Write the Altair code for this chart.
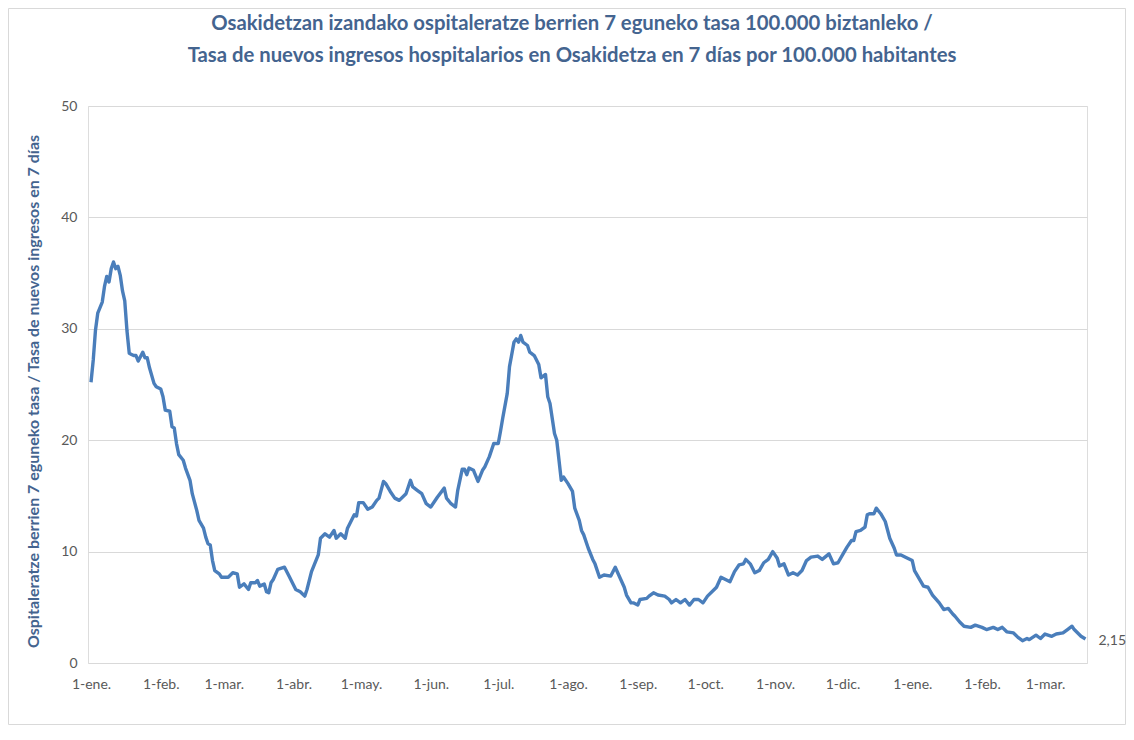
import altair as alt
import pandas as pd

# ---- data (days since 2022-01-01, rate per 100.000) ----
days = [0, 1, 2, 3, 5, 6, 7, 8, 9, 10, 11, 12, 13, 14, 15, 16, 17, 18, 19, 20,
        21, 23, 24, 25, 26, 28, 29, 31, 32, 33, 35, 36, 37, 38, 39, 41, 42, 44, 45, 47,
        48, 50, 51, 52, 53, 54, 55, 57, 58, 61, 63, 65, 66, 68, 70, 71, 73, 74, 75, 77,
        78, 79, 80, 81, 83, 86, 88, 91, 93, 95, 96, 98, 101, 102, 104, 106, 108, 109, 111, 113,
        114, 117, 118, 119, 121, 123, 125, 127, 128, 130, 131, 133, 135, 137, 140, 142, 143, 145, 147, 149,
        151, 154, 157, 158, 160, 162, 163, 165, 166, 167, 168, 170, 172, 174, 175, 177, 179, 181, 182, 183,
        185, 186, 188, 189, 190, 191, 192, 194, 195, 197, 199, 200, 202, 203, 204, 206, 207, 209, 210, 212,
        214, 215, 217, 218, 219, 221, 223, 224, 226, 228, 231, 233, 235, 237, 238, 240, 241, 243, 244, 247,
        248, 250, 252, 255, 257, 258, 260, 262, 264, 266, 268, 270, 272, 274, 277, 278, 280, 282, 284, 286,
        288, 290, 291, 293, 295, 297, 299, 301, 303, 305, 306, 308, 310, 312, 314, 316, 318, 320, 323, 325,
        328, 330, 332, 334, 336, 338, 339, 340, 342, 344, 345, 346, 348, 349, 351, 353, 355, 357, 358, 360,
        362, 365, 366, 368, 370, 372, 374, 377, 379, 381, 383, 384, 386, 388, 391, 393, 396, 398, 401, 403,
        405, 407, 410, 412, 414, 416, 417, 420, 422, 424, 427, 429, 432, 434, 436, 437, 439, 440, 442]

values = [25.2, 27.2, 29.9, 31.4, 32.4, 33.8, 34.7, 34.2, 35.4, 36.0, 35.4, 35.6, 34.8, 33.4, 32.5, 29.8, 27.8, 27.7, 27.6, 27.6,
          27.1, 27.9, 27.4, 27.4, 26.5, 25.1, 24.8, 24.6, 23.9, 22.7, 22.6, 21.2, 21.1, 19.7, 18.7, 18.2, 17.5, 16.4, 15.2, 13.7,
          12.8, 12.1, 11.3, 10.7, 10.6, 9.2, 8.3, 8.0, 7.7, 7.7, 8.1, 8.0, 6.8, 7.1, 6.6, 7.2, 7.2, 7.4, 6.9, 7.1,
          6.4, 6.3, 7.2, 7.5, 8.4, 8.6, 7.8, 6.6, 6.4, 6.0, 6.6, 8.2, 9.7, 11.2, 11.6, 11.3, 11.9, 11.2, 11.6, 11.2,
          12.1, 13.3, 13.2, 14.4, 14.4, 13.8, 14.0, 14.6, 14.8, 16.3, 16.1, 15.4, 14.8, 14.6, 15.2, 16.4, 15.8, 15.5, 15.2, 14.3,
          14.0, 14.9, 15.7, 14.8, 14.3, 14.0, 15.5, 17.4, 17.4, 16.9, 17.5, 17.3, 16.3, 17.3, 17.6, 18.5, 19.7, 19.7, 20.8, 22.0,
          24.2, 26.6, 28.8, 29.1, 28.8, 29.4, 28.8, 28.5, 27.9, 27.6, 26.8, 25.6, 25.9, 23.9, 23.3, 20.6, 20.0, 16.4, 16.7, 16.1,
          15.4, 13.9, 12.8, 11.9, 11.5, 10.3, 9.3, 8.9, 7.7, 7.9, 7.8, 8.6, 7.7, 6.8, 6.1, 5.4, 5.4, 5.2, 5.7, 5.8,
          6.0, 6.3, 6.1, 6.0, 5.7, 5.4, 5.7, 5.4, 5.7, 5.2, 5.7, 5.7, 5.4, 6.0, 6.6, 6.8, 7.7, 7.5, 7.3, 8.2,
          8.8, 8.9, 9.3, 8.9, 8.1, 8.3, 9.0, 9.3, 10.0, 9.4, 8.7, 8.9, 7.9, 8.1, 7.9, 8.3, 9.2, 9.5, 9.6, 9.3,
          9.8, 8.9, 9.0, 9.7, 10.4, 11.0, 11.0, 11.8, 11.9, 12.2, 13.3, 13.4, 13.4, 13.9, 13.4, 12.7, 11.2, 10.3, 9.7, 9.7,
          9.5, 9.2, 8.3, 7.6, 6.9, 6.8, 6.1, 5.4, 4.8, 4.9, 4.4, 4.2, 3.7, 3.3, 3.2, 3.4, 3.2, 3.0, 3.2, 3.0,
          3.2, 2.8, 2.7, 2.3, 2.0, 2.2, 2.1, 2.5, 2.2, 2.6, 2.4, 2.6, 2.7, 3.0, 3.3, 3.0, 2.6, 2.4, 2.15]

month_labels = ["ene.", "feb.", "mar.", "abr.", "may.", "jun.",
                "jul.", "ago.", "sep.", "oct.", "nov.", "dic."]
tick_months = [(2022, m) for m in range(1, 13)] + [(2023, 1), (2023, 2), (2023, 3)]
y_ticks = [0, 10, 20, 30, 40, 50]

title_lines = ["Osakidetzan izandako ospitaleratze berrien 7 eguneko tasa 100.000 biztanleko /",
               "Tasa de nuevos ingresos hospitalarios en Osakidetza en 7 días por 100.000 habitantes"]
y_title = "Ospitaleratze  berrien 7 eguneko tasa / Tasa de nuevos ingresos en 7 días"

# ---- build tables ----
base = pd.Timestamp("2022-01-01")
dates = [(base + pd.Timedelta(days=d)).strftime("%Y-%m-%dT00:00:00") for d in days]
df = pd.DataFrame({"fecha": dates, "tasa": values})
last = df.tail(1).copy()
last["label"] = [f"{v:.2f}".replace(".", ",") for v in last["tasa"]]
title1 = pd.DataFrame({"text": [title_lines[0]]})
title2 = pd.DataFrame({"text": [title_lines[1]]})

W, H = 999, 557
PAD_L, PAD_T, PAD_R, PAD_B = 80, 98, 39, 62

FONT = "Lato"
TITLE_COLOR = "#44648F"
LABEL_COLOR = "#595959"
LINE_COLOR = "#4A7EBB"

names_js = "[" + ",".join(f"'{m}'" for m in month_labels) + "]"

x_enc = alt.X(
    "fecha:T",
    scale=alt.Scale(domain=[alt.DateTime(year=2021, month=12, date=30, hours=16),
                            alt.DateTime(year=2023, month=3, date=19, hours=16)]),
    axis=alt.Axis(
        values=[alt.DateTime(year=y, month=m, date=1) for y, m in tick_months],
        labelExpr=f"'1-' + {names_js}[month(datum.value)]",
        title=None, grid=False, ticks=False, domain=False,
        labelFont=FONT, labelFontSize=14, labelColor=LABEL_COLOR,
        labelPadding=14, labelOverlap=False, labelBound=False, labelFlush=False,
    ),
)
y_enc = alt.Y(
    "tasa:Q",
    scale=alt.Scale(domain=[0, 50], nice=False, zero=True),
    axis=alt.Axis(
        values=y_ticks, title=y_title, grid=True, gridColor="#D9D9D9", gridWidth=1,
        ticks=False, domain=False,
        labelFont=FONT, labelFontSize=14, labelColor=LABEL_COLOR, labelPadding=11,
        titleFont=FONT, titleFontSize=16, titleFontWeight="bold", titleColor=TITLE_COLOR,
        titleX=-55, titleY=285, titleAngle=270, titleAlign="center", titleBaseline="middle",
    ),
)

line = alt.Chart(df).mark_line(color=LINE_COLOR, strokeWidth=3.4, interpolate="linear",
                               strokeJoin="round").encode(x=x_enc, y=y_enc)
end_label = alt.Chart(last).mark_text(
    align="left", baseline="middle", dx=13, dy=2, font=FONT, fontSize=14, color=LABEL_COLOR
).encode(x="fecha:T", y="tasa:Q", text="label:N")

title_style = dict(align="center", baseline="middle", font=FONT, fontSize=20.3,
                   fontWeight="bold", color=TITLE_COLOR)
t1 = alt.Chart(title1).mark_text(**title_style).encode(
    x=alt.value(484), y=alt.value(-82), text="text:N")
t2 = alt.Chart(title2).mark_text(**title_style).encode(
    x=alt.value(484), y=alt.value(-50), text="text:N")

frame = alt.Chart(last).mark_rect(fill=None, stroke="#D9D9D9", strokeWidth=1).encode(
    x=alt.value(-PAD_L + 0.5), x2=alt.value(W + PAD_R - 0.5),
    y=alt.value(-PAD_T + 0.5), y2=alt.value(H + PAD_B - 0.5),
)

chart = alt.layer(frame, line, end_label, t1, t2).properties(
    width=W, height=H,
    autosize=alt.AutoSizeParams(type="none"),
    padding={"left": PAD_L, "top": PAD_T, "right": PAD_R, "bottom": PAD_B},
).configure_view(stroke=None).configure(background="white")

chart.save("out.html", embed_options={"renderer": "svg", "actions": False})
